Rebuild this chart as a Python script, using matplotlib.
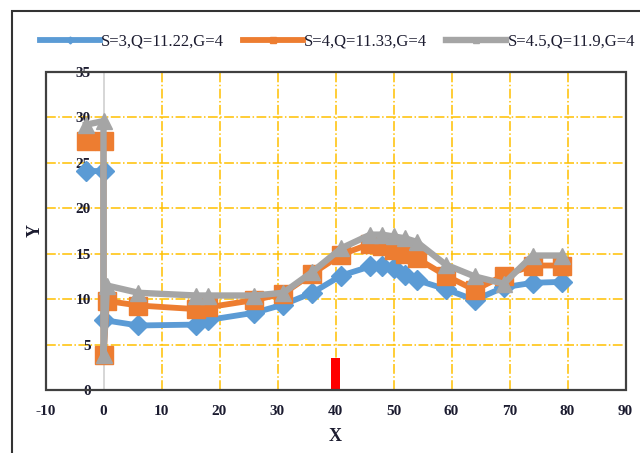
import matplotlib.pyplot as plt
from matplotlib.patches import Rectangle

# ---------------- data ----------------
x_blue = [-3, 0, 0, 6, 16, 18, 26, 31, 36, 41, 46, 48, 50, 52, 54, 59, 64, 69, 74, 79]
y_blue = [24.1, 24.1, 7.7, 7.1, 7.2, 7.7, 8.5, 9.4, 10.7, 12.6, 13.6, 13.6, 13.4,
          12.7, 12.1, 11.1, 9.9, 11.3, 11.8, 11.9]

x_all = [-3, 0, 0, 0.6, 6, 16, 18, 26, 31, 36, 41, 46, 48, 50, 52, 54, 59, 64, 69, 74, 79]
y_orange = [27.4, 27.4, 3.8, 9.8, 9.3, 8.9, 9.1, 9.9, 10.6, 12.8, 14.9, 16.1, 15.8,
            15.4, 15.0, 14.5, 12.6, 11.0, 12.6, 13.7, 13.7]
y_gray = [29.2, 29.6, 3.8, 11.5, 10.7, 10.4, 10.4, 10.4, 10.7, 13.0, 15.6, 17.1,
          17.1, 16.9, 16.7, 16.3, 13.8, 12.5, 11.7, 14.8, 14.8]

labels = ["S=3,Q=11.22,G=4", "S=4,Q=11.33,G=4", "S=4.5,Q=11.9,G=4"]

bar_x = [40]
bar_h = [3.5]

BLUE = "#5B9BD5"
ORANGE = "#ED7D31"
GRAY = "#A5A5A5"
GRID = "#FFC000"
TXT = "#1c1c30"

plt.rcParams["font.family"] = ["Liberation Serif", "DejaVu Serif"]
plt.rcParams["axes.unicode_minus"] = False

fig = plt.figure(figsize=(6.4, 4.53), dpi=100)
ax = fig.add_axes([45.5 / 640, 63 / 453, 580 / 640, 318 / 453])

# outer chart border
fig.patches.append(Rectangle((12 / 640, -0.5), 2.0, 0.5 + (453 - 11) / 453,
                             transform=fig.transFigure, fill=False,
                             edgecolor="#333333", linewidth=1.5))

ax.set_xlim(-10, 90)
ax.set_ylim(0, 35)
ax.set_xticks(range(-10, 91, 10))
ax.set_yticks(range(0, 36, 5))

# grid
for gx in range(10, 90, 10):
    ax.axvline(gx, color=GRID, linestyle="-.", linewidth=1.1, zorder=0)
for gy in range(5, 36, 5):
    ax.axhline(gy, color=GRID, linestyle="-.", linewidth=1.1, zorder=0)

ax.bar(bar_x, bar_h, width=1.6, color="#FF0000", zorder=2)

ax.plot(x_blue, y_blue, color=BLUE, linewidth=4.2, marker="D", markersize=10,
        label=labels[0], zorder=3)
ax.plot(x_all, y_orange, color=ORANGE, linewidth=4.2, marker="s", markersize=13,
        label=labels[1], zorder=4)
ax.plot(x_all, y_gray, color=GRAY, linewidth=4.6, marker="^", markersize=12,
        label=labels[2], zorder=5)

# y axis crosses at x = 0, frame drawn separately
for side in ["top", "right", "bottom"]:
    ax.spines[side].set_visible(False)
ax.spines["left"].set_position(("data", 0))
ax.spines["left"].set_color("#D0D0D0")
ax.spines["left"].set_linewidth(1.2)
ax.spines["left"].set_zorder(1)
ax.add_patch(Rectangle((0, 0), 1, 1, transform=ax.transAxes, fill=False,
                       edgecolor="#404040", linewidth=1.6, zorder=6, clip_on=False))

ax.tick_params(axis="y", length=0, pad=9, labelsize=11, labelcolor=TXT)
ax.tick_params(axis="x", length=0, pad=11, labelsize=11, labelcolor=TXT)
for t in ax.get_xticklabels() + ax.get_yticklabels():
    t.set_fontweight("bold")

ax.set_xlabel("X", fontsize=13, fontweight="bold", color=TXT, labelpad=7)
fig.text(35 / 640, 1 - 230 / 453, "Y", rotation=90, fontsize=13,
         fontweight="bold", color=TXT, ha="center", va="center")

fig.legend(loc="center", bbox_to_anchor=(0.527, 1 - 42 / 453), ncol=3,
           frameon=False, fontsize=12, handlelength=3.6, handletextpad=0.1,
           columnspacing=1.1, markerscale=0.35, labelcolor=TXT)

fig.savefig("out.png", dpi=100)
